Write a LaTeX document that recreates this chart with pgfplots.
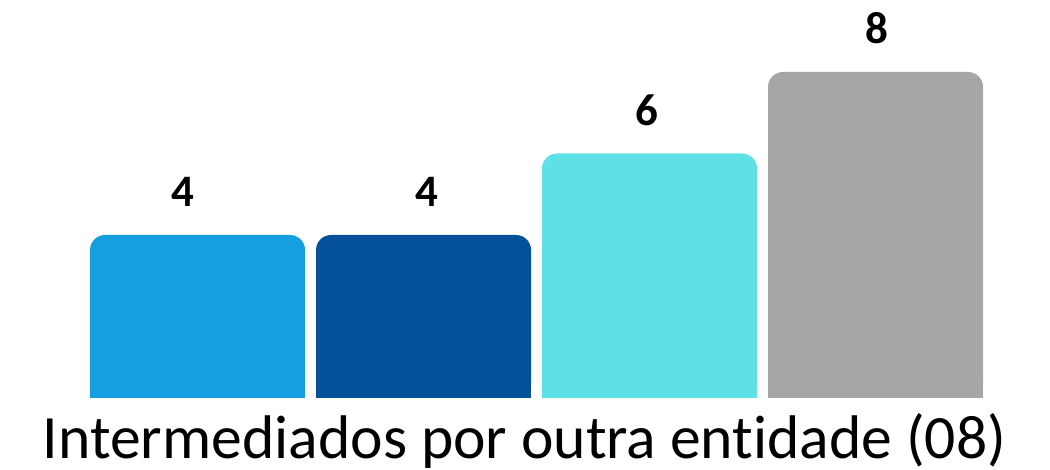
\documentclass[border=0pt]{standalone}
\usepackage{pgfplots}
\pgfplotsset{compat=1.18}
\usepackage{fontspec}
\setmainfont{Carlito}[Ligatures=NoCommon]
\definecolor{cA}{RGB}{21,159,224}
\definecolor{cB}{RGB}{4,81,154}
\definecolor{cC}{RGB}{93,225,230}
\definecolor{cD}{RGB}{166,166,166}
\pgfplotsset{
  mybar/.style={ybar, bar width=107.5pt, bar shift=0pt, draw=none, fill=#1},
  topbar/.style={mybar=#1, rounded corners=7.5pt, nodes near coords,
    nodes near coords style={font=\bfseries\fontsize{22.5}{22.5}\selectfont, text=black, anchor=base, yshift=14pt}},
  lowbar/.style={mybar=#1, sharp corners, y filter/.expression={y/2}},
}
\begin{document}
\begin{tikzpicture}
\path[use as bounding box] (0,0) rectangle (525pt,235pt);
\begin{axis}[
  at={(0,36pt)}, anchor=south west,
  scale only axis, width=525pt, height=199pt,
  xmin=-0.874, xmax=3.772, ymin=0, ymax=9.767,
  hide axis,
  /pgf/number format/assume math mode=true,
]
\addplot[topbar=cA, nodes near coords style={xshift=-7.5pt}] coordinates {(0,4)};
\addplot[lowbar=cA] coordinates {(0,4)};
\addplot[topbar=cB, nodes near coords style={xshift=1.75pt}] coordinates {(1,4)};
\addplot[lowbar=cB] coordinates {(1,4)};
\addplot[topbar=cC, nodes near coords style={xshift=-1.25pt}] coordinates {(2,6)};
\addplot[lowbar=cC] coordinates {(2,6)};
\addplot[topbar=cD, nodes near coords style={xshift=0.75pt}] coordinates {(3,8)};
\addplot[lowbar=cD] coordinates {(3,8)};
\end{axis}
\node[anchor=base, inner sep=0pt, font=\fontsize{30.8}{31}\selectfont] at (262.3pt,5.5pt) {Intermediados por outra entidade (08)};
\end{tikzpicture}
\end{document}
